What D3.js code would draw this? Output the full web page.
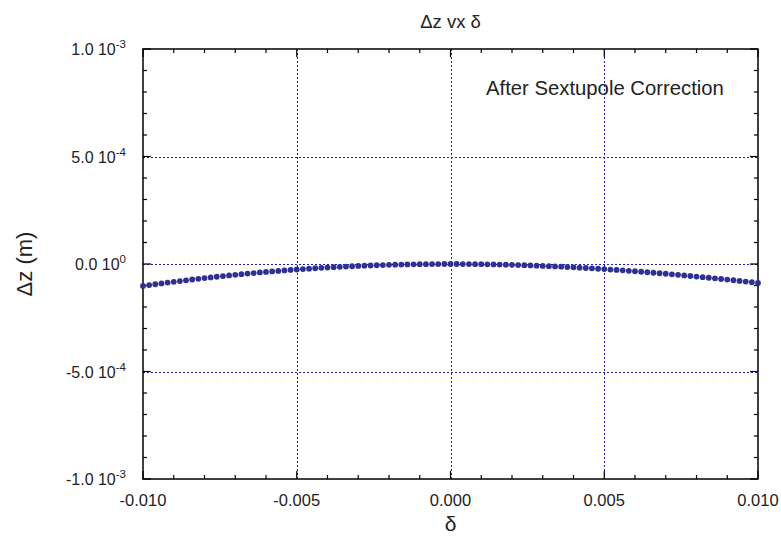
<!DOCTYPE html>
<html>
<head>
<meta charset="utf-8">
<script src="https://cdn.jsdelivr.net/npm/d3@7"></script>
<style>
  html, body { margin: 0; padding: 0; background: #fff; }
  svg { display: block; font-family: "Liberation Sans", Arial, sans-serif; }
</style>
</head>
<body>
<svg id="chart" width="781" height="537"></svg>
<script>
// Sampling grid in δ: 101 points from -0.010 to 0.010
const deltaStart = -0.010;
const deltaStep = 0.0002;

// Δz along the δ grid, in units of 1e-4 m
const dzE4 = [
  -1.020, -0.980, -0.941, -0.903, -0.865, -0.828, -0.792, -0.757, -0.722, -0.688,
  -0.655, -0.623, -0.592, -0.561, -0.531, -0.502, -0.474, -0.446, -0.420, -0.394,
  -0.369, -0.344, -0.321, -0.298, -0.277, -0.256, -0.235, -0.216, -0.198, -0.180,
  -0.163, -0.147, -0.132, -0.118, -0.104, -0.091, -0.080, -0.069, -0.058, -0.049,
  -0.040, -0.033, -0.026, -0.020, -0.015, -0.010, -0.006, -0.004, -0.002, 0.000,
  0.000,
  0.000, -0.002, -0.004, -0.006, -0.010, -0.014, -0.019, -0.025, -0.032, -0.039,
  -0.048, -0.056, -0.066, -0.077, -0.088, -0.100, -0.112, -0.125, -0.140, -0.154,
  -0.170, -0.186, -0.203, -0.220, -0.238, -0.257, -0.276, -0.296, -0.317, -0.338,
  -0.360, -0.383, -0.406, -0.430, -0.454, -0.479, -0.504, -0.530, -0.557, -0.584,
  -0.611, -0.639, -0.668, -0.697, -0.726, -0.756, -0.786, -0.817, -0.848, -0.880
];

// Axis ticks and labels
const xTicks = [-0.010, -0.005, 0.000, 0.005, 0.010];
const xTickLabels = ["-0.010", "-0.005", "0.000", "0.005", "0.010"];
const yTicks = [1e-3, 5e-4, 0, -5e-4, -1e-3];
const yTickMantissa = ["1.0 10", "5.0 10", "0.0 10", "-5.0 10", "-1.0 10"];
const yTickExponent = ["-3", "-4", "0", "-4", "-3"];

const titleText = "\u0394z vx \u03b4";
const xTitle = "\u03b4";
const yTitle = "\u0394z  (m)";
const noteText = "After Sextupole Correction";

const points = dzE4.map((v, i) => ({ d: deltaStart + deltaStep * i, z: v * 1e-4 }));

const svg = d3.select("#chart");
const plot = { left: 143, right: 758, top: 49, bottom: 479 };

const x = d3.scaleLinear().domain([-0.010, 0.010]).range([plot.left, plot.right]);
const y = d3.scaleLinear().domain([-1e-3, 1e-3]).range([plot.bottom, plot.top]);

const gridColor = "#1c1cb0";
const markColor = "#2e3192";
const textColor = "#222";

// Dotted grid at interior major ticks
const g = svg.append("g");
g.selectAll("line.vgrid")
  .data(xTicks.slice(1, -1))
  .join("line")
  .attr("x1", d => Math.round(x(d)) + 0.5).attr("x2", d => Math.round(x(d)) + 0.5)
  .attr("y1", plot.top).attr("y2", plot.bottom)
  .attr("stroke", gridColor).attr("stroke-width", 1).attr("stroke-dasharray", "2,2");
g.selectAll("line.hgrid")
  .data(yTicks.slice(1, -1))
  .join("line")
  .attr("y1", d => Math.round(y(d)) + 0.5).attr("y2", d => Math.round(y(d)) + 0.5)
  .attr("x1", plot.left).attr("x2", plot.right)
  .attr("stroke", gridColor).attr("stroke-width", 1).attr("stroke-dasharray", "2,2");

// Inward ticks on all four sides: majors 8px, minors 4px
const xMinor = d3.range(-10, 11).map(k => k * 0.001);
const yMinor = d3.range(-10, 11).map(k => k * 1e-4);
const tickG = svg.append("g").attr("stroke", "#000").attr("stroke-width", 1.2);
xMinor.forEach((d, k) => {
  const len = (k % 5 === 0) ? 8 : 4;
  const px = x(d);
  tickG.append("line").attr("x1", px).attr("x2", px).attr("y1", plot.bottom).attr("y2", plot.bottom - len);
  tickG.append("line").attr("x1", px).attr("x2", px).attr("y1", plot.top).attr("y2", plot.top + len);
});
yMinor.forEach((d, k) => {
  const len = (k % 5 === 0) ? 8 : 4;
  const py = y(d);
  tickG.append("line").attr("y1", py).attr("y2", py).attr("x1", plot.left).attr("x2", plot.left + len);
  tickG.append("line").attr("y1", py).attr("y2", py).attr("x1", plot.right).attr("x2", plot.right - len);
});

// Frame
svg.append("rect")
  .attr("x", plot.left).attr("y", plot.top)
  .attr("width", plot.right - plot.left).attr("height", plot.bottom - plot.top)
  .attr("fill", "none").attr("stroke", "#000").attr("stroke-width", 1.5);

// Data points
svg.append("g").selectAll("circle")
  .data(points)
  .join("circle")
  .attr("cx", d => x(d.d))
  .attr("cy", d => y(d.z))
  .attr("r", 2.9)
  .attr("fill", markColor);

// X tick labels
svg.append("g").selectAll("text")
  .data(xTicks)
  .join("text")
  .attr("x", d => x(d))
  .attr("y", 506)
  .attr("text-anchor", "middle")
  .attr("font-size", 16.5)
  .attr("fill", textColor)
  .text((d, i) => xTickLabels[i]);

// Y tick labels with exponent
const yl = svg.append("g").selectAll("text")
  .data(yTicks)
  .join("text")
  .attr("x", 126)
  .attr("y", d => y(d) + 6)
  .attr("text-anchor", "end")
  .attr("font-size", 16)
  .attr("fill", textColor);
yl.append("tspan").text((d, i) => yTickMantissa[i]);
yl.append("tspan")
  .attr("dy", -7)
  .attr("font-size", 11.5)
  .text((d, i) => yTickExponent[i]);

// Title
svg.append("text")
  .attr("x", (plot.left + plot.right) / 2)
  .attr("y", 28)
  .attr("text-anchor", "middle")
  .attr("font-size", 18.5)
  .attr("fill", textColor)
  .text(titleText);

// Axis titles
svg.append("text")
  .attr("x", (plot.left + plot.right) / 2)
  .attr("y", 531)
  .attr("text-anchor", "middle")
  .attr("font-size", 21)
  .attr("fill", textColor)
  .text(xTitle);

svg.append("text")
  .attr("transform", `translate(32, ${(plot.top + plot.bottom) / 2}) rotate(-90)`)
  .attr("text-anchor", "middle")
  .attr("font-size", 22)
  .attr("fill", textColor)
  .text(yTitle);

// Annotation
svg.append("text")
  .attr("x", 486)
  .attr("y", 95)
  .attr("font-size", 20.3)
  .attr("fill", textColor)
  .text(noteText);
</script>
</body>
</html>
